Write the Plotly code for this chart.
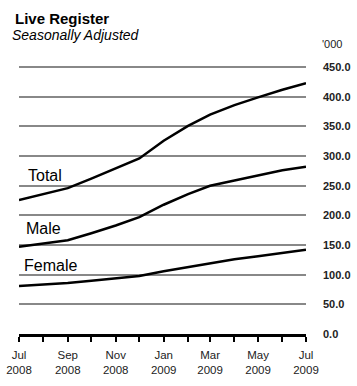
import plotly.graph_objects as go

months = ["2008-07-01", "2008-08-01", "2008-09-01", "2008-10-01", "2008-11-01",
          "2008-12-01", "2009-01-01", "2009-02-01", "2009-03-01", "2009-04-01",
          "2009-05-01", "2009-06-01", "2009-07-01"]
total = [226, 236, 246, 262, 279, 296, 326, 351, 370, 386, 399, 412, 423]
male = [147, 152, 158, 170, 183, 197, 218, 236, 250, 259, 268, 276, 282]
female = [81, 83, 86, 90, 94, 98, 106, 113, 120, 126, 131, 136, 142]

x_tickvals = ["2008-07-01", "2008-09-01", "2008-11-01", "2009-01-01",
              "2009-03-01", "2009-05-01", "2009-07-01"]
x_ticktext = ["Jul<br>2008", "Sep<br>2008", "Nov<br>2008", "Jan<br>2009",
              "Mar<br>2009", "May<br>2009", "Jul<br>2009"]
y_tickvals = [0, 50, 100, 150, 200, 250, 300, 350, 400, 450]
y_ticktext = ["0.0", "50.0", "100.0", "150.0", "200.0", "250.0", "300.0",
              "350.0", "400.0", "450.0"]

series = [("Total", total, 268, 7), ("Male", male, 178, 5), ("Female", female, 116, 3)]

FONT = "Liberation Sans, Arial"

fig = go.Figure()
for name, vals, _, _ in series:
    fig.add_trace(go.Scatter(x=months, y=vals, mode="lines", name=name,
                             line=dict(color="black", width=2.5),
                             hoverinfo="skip"))

for name, vals, ypos, xs in series:
    fig.add_annotation(x=0, xref="paper", y=ypos, yref="y", text=name,
                       showarrow=False, xanchor="left", yanchor="middle", xshift=xs,
                       font=dict(family=FONT, size=16, color="black"))

fig.update_layout(
    width=357, height=386,
    margin=dict(l=19, r=51, t=66, b=52, autoexpand=False),
    paper_bgcolor="white", plot_bgcolor="white",
    showlegend=False,
    font=dict(family=FONT, color="#222"),
    xaxis=dict(
        type="date", automargin=False,
        range=["2008-07-01", "2009-07-01"],
        tickvals=x_tickvals, ticktext=x_ticktext,
        ticks="outside", ticklen=5, tickwidth=2, tickcolor="black",
        showline=True, linecolor="black", linewidth=3,
        showgrid=False, zeroline=False,
        minor=dict(dtick="M1", ticks="outside", ticklen=5, tickwidth=2,
                   tickcolor="black", showgrid=False),
        tickfont=dict(size=11.5, color="#222"),
        ticklabelstandoff=3,
    ),
    yaxis=dict(
        range=[0, 452], side="right", automargin=False,
        tickvals=y_tickvals, ticktext=y_ticktext,
        showgrid=True, gridcolor="#888888", gridwidth=2,
        zeroline=False, showline=False, ticks="",
        tickfont=dict(size=11, color="#222", family=FONT, weight="bold"),
        ticklabelstandoff=16,
    ),
)

fig.add_annotation(text="<b>Live Register</b>", xref="paper", yref="paper",
                   x=0, y=1.0, xanchor="left", yanchor="bottom", showarrow=False,
                   xshift=-6, yshift=37, font=dict(size=15, color="black", family=FONT))
fig.add_annotation(text="<i>Seasonally Adjusted</i>", xref="paper", yref="paper",
                   x=0, y=1.0, xanchor="left", yanchor="bottom", showarrow=False,
                   xshift=-9, yshift=21, font=dict(size=14, color="black", family=FONT))
fig.add_annotation(text="'000", xref="paper", yref="paper",
                   x=1.0, y=1.0, xanchor="left", yanchor="bottom", showarrow=False,
                   xshift=14, yshift=14, font=dict(size=11, color="#222", family=FONT))

fig.write_html("out.html", config={"displayModeBar": False},
               post_script="document.body.style.margin='0';")
